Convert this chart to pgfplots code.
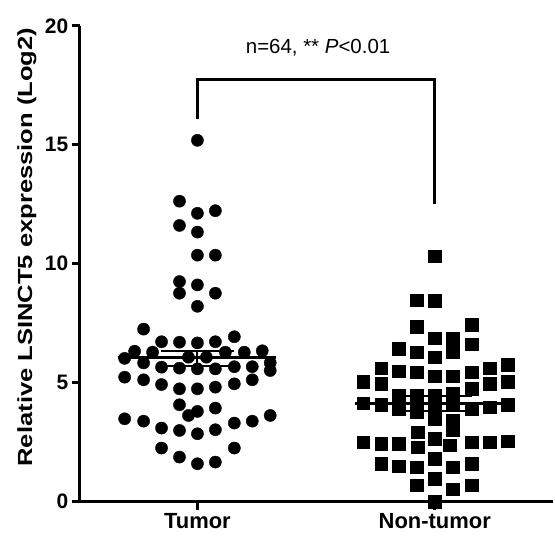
\documentclass[border=0pt]{standalone}
\usepackage{fontspec}
\setmainfont{Liberation Sans}
\usepackage{graphicx}
\usepackage{pgfplots}
\pgfplotsset{compat=1.18}

% Tumor: x = horizontal scatter offset (px), y = value
\pgfplotstableread{
x y
0 15.19
-18 12.63
0 12.12
18 12.23
-18 11.61
0 11.33
0 10.36
18 10.36
-18 9.25
0 9.11
-18 8.76
18 8.76
0 8.21
-54 7.25
-36 6.72
-18 6.70
0 6.67
18 6.72
37 6.93
-63 6.32
-45 6.28
-9 6.07
9 6.07
-73 6.02
28 6.28
47 6.28
65 6.34
-54 5.83
73 5.83
-36 5.65
-18 5.61
0 5.58
18 5.58
37 5.67
55 5.67
73 5.51
-73 5.23
-54 5.12
-36 4.92
-18 4.74
0 4.74
18 4.81
37 4.95
55 5.12
-18 4.07
18 3.93
0 3.79
-9 3.62
-73 3.48
-54 3.38
-36 3.09
-18 2.99
0 2.85
18 3.02
37 3.30
55 3.38
73 3.62
-36 2.25
37 2.25
-18 1.87
0 1.59
18 1.66
}\tumor

\pgfplotstableread{
x y
238 10.33
220 8.48
238 8.44
220 7.35
275 7.43
238 6.88
256 6.88
202 6.42
220 6.28
275 6.62
256 6.30
238 6.07
184 5.62
202 5.48
220 5.44
238 5.27
256 5.27
275 5.44
293 5.62
311 5.76
166 5.04
184 4.95
275 4.74
293 4.95
311 5.04
166 4.14
184 4.07
202 4.46
202 3.90
220 4.46
238 4.46
256 4.53
275 3.90
293 3.97
311 4.08
220 4.05
238 4.15
256 4.05
220 3.76
238 3.48
256 3.41
256 3.00
166 2.50
184 2.43
202 2.43
221 2.92
221 2.29
238 2.64
253 2.36
275 2.50
293 2.50
311 2.53
184 1.59
202 1.49
220 1.45
238 1.80
256 1.45
275 1.59
220 0.68
238 0.96
256 0.52
275 0.68
238 0.00
}\normal

\begin{document}
\begin{tikzpicture}
\begin{axis}[
    scale only axis,
    width=475pt, height=477pt,
    xmin=-118, xmax=357,
    ymin=0, ymax=20,
    clip=false,
    axis x line*=bottom,
    axis y line*=left,
    axis line style={line width=3.2pt},
    xtick={0,238},
    xticklabels={Tumor, Non-tumor},
    ytick={0,5,10,15,20},
    tick align=outside,
    major tick length=8pt,
    tick style={line width=3pt, black},
    /pgf/number format/assume math mode=true,
    yticklabel style={font=\bfseries\fontsize{21}{24}\selectfont},
    xticklabel style={font=\bfseries\fontsize{22}{25}\selectfont},
    ylabel={\scalebox{1.25}[1]{Relative LSINCT5 expression (Log2)}},
    ylabel style={at={(rel axis cs:0,0.535)}, anchor=center, yshift=53pt,
        font=\bfseries\fontsize{20.5}{24}\selectfont},
]
% mean lines with error bars
\addplot[black, line width=3pt] coordinates {(-80,6.07) (79,6.07)};
\addplot[black, line width=2pt] coordinates {(-37,6.34) (37,6.34)};
\addplot[black, line width=2pt] coordinates {(-37,5.68) (37,5.68)};
\addplot[black, line width=2pt] coordinates {(0,5.68) (0,6.34)};
\addplot[black, line width=3pt] coordinates {(158,4.11) (318,4.11)};
\addplot[black, line width=2pt] coordinates {(201,4.45) (275,4.45)};
\addplot[black, line width=2pt] coordinates {(201,3.80) (275,3.80)};
\addplot[black, line width=2pt] coordinates {(238,3.80) (238,4.45)};
% points
\addplot[only marks, mark=*, mark size=6.1pt, black] table[x=x, y=y] {\tumor};
\addplot[only marks, mark=square*, mark size=6.2pt, black] table[x=x, y=y] {\normal};
% significance bracket
\addplot[black, line width=3pt] coordinates {(0,16.1) (0,17.74) (238,17.74) (238,12.5)};
\node[font=\fontsize{20.5}{24}\selectfont] at (axis cs:121,19.1) {n=64, ** \textit{P}<0.01};
\end{axis}
\path (-80pt,-34pt) rectangle (475pt,503pt);
\end{tikzpicture}
\end{document}
